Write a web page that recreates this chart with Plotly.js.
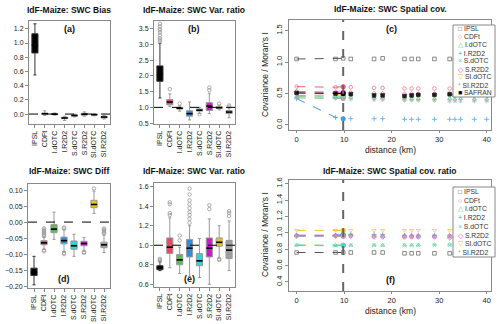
<!DOCTYPE html>
<html>
<head>
<meta charset="utf-8">
<script src="https://cdn.plot.ly/plotly-3.0.1.min.js"></script>
<style>body{margin:0;padding:0;background:#fff}#plot{width:500px;height:324px}</style>
</head>
<body>
<div id="plot"></div>
<script>
/* categories and colours */
var cats = ["IPSL", "CDFt", "I.dOTC", "I.R2D2", "S.dOTC", "S.R2D2", "SI.dOTC", "SI.R2D2"];
var boxColors = ["#000000", "#e34a66", "#55c24a", "#2a8de0", "#2ad7e0", "#cc1ac9", "#f2c114", "#9e9e9e"];

/* (a) SWC Bias */
var aLo  = [0.55, -0.02, -0.015, -0.09, -0.04, -0.03, -0.025, -0.07];
var aQ1  = [0.86, -0.005, -0.008, -0.065, -0.03, -0.015, -0.015, -0.055];
var aMed = [0.97, 0.005, -0.002, -0.055, -0.02, -0.003, -0.008, -0.042];
var aQ3  = [1.13, 0.012, 0.005, -0.045, -0.012, 0.01, -0.003, -0.032];
var aHi  = [1.27, 0.045, 0.015, -0.03, 0.0, 0.03, 0.008, -0.02];
var aOutCat = [];
var aOutVal = [];

/* (b) SWC Var. ratio */
var bLo  = [1.3, 1.03, 0.88, 0.6, 0.8, 0.8, 0.92, 0.67];
var bQ1  = [1.83, 1.08, 0.95, 0.72, 0.88, 0.9, 0.96, 0.8];
var bMed = [2.05, 1.17, 0.97, 0.8, 0.91, 1.04, 0.99, 0.85];
var bQ3  = [2.32, 1.25, 1.0, 0.89, 0.95, 1.15, 1.02, 0.9];
var bHi  = [3.04, 1.43, 1.05, 1.17, 1.0, 1.45, 1.07, 0.98];
var bOutCat = [0, 0, 0, 0, 0, 0, 0, 0, 0, 1, 2, 4, 5, 5, 6, 7, 7];
var bOutVal = [3.1, 3.15, 3.2, 3.3, 3.38, 3.45, 3.5, 3.58, 3.66, 1.58, 1.12, 0.78, 1.55, 1.63, 1.12, 1.02, 1.06];

/* (d) SWC Diff */
var dLo  = [-0.196, -0.085, -0.054, -0.092, -0.107, -0.09, 0.027, -0.095];
var dQ1  = [-0.167, -0.071, -0.033, -0.068, -0.085, -0.074, 0.045, -0.08];
var dMed = [-0.157, -0.065, -0.022, -0.058, -0.074, -0.067, 0.055, -0.071];
var dQ3  = [-0.144, -0.058, -0.008, -0.047, -0.059, -0.06, 0.068, -0.063];
var dHi  = [-0.107, -0.047, 0.031, -0.024, -0.038, -0.048, 0.097, -0.04];
var dOutCat = [1, 1, 1, 1, 1, 1, 1, 1, 1, 3, 3, 3, 3, 5, 5, 6, 7, 7, 7, 7, 7];
var dOutVal = [-0.044, -0.04, -0.036, -0.032, -0.028, -0.024, -0.02, -0.088, -0.091, -0.02, -0.017, -0.096, -0.1, -0.093, -0.096, 0.105, -0.036, -0.032, -0.028, -0.024, -0.02];

/* (e) SWC Var. ratio */
var eLo  = [0.74, 0.77, 0.71, 0.68, 0.67, 0.6, 0.87, 0.74];
var eQ1  = [0.75, 0.915, 0.80, 0.88, 0.79, 0.88, 0.99, 0.865];
var eMed = [0.77, 0.98, 0.85, 0.97, 0.84, 0.97, 1.03, 0.95];
var eQ3  = [0.79, 1.075, 0.905, 1.06, 0.915, 1.075, 1.075, 1.05];
var eHi  = [0.83, 1.28, 0.98, 1.2, 1.07, 1.27, 1.2, 1.25];
var eOutCat = [0, 0, 0, 1, 1, 1, 1, 2, 2, 3, 3, 3, 3, 3, 3, 3, 3, 3, 5, 5, 6, 6, 7, 7, 7];
var eOutVal = [0.84, 0.85, 0.86, 1.31, 1.33, 1.42, 1.44, 1.05, 1.1, 1.23, 1.27, 1.31, 1.34, 1.38, 1.42, 1.46, 1.52, 1.58, 1.37, 1.41, 0.85, 0.86, 1.3, 1.33, 1.35];

/* (c) spatial covariance vs distance */
var dist = [0, 8.2, 9.8, 11.4, 16.3, 18.1, 22.7, 24.2, 25.6, 29, 32.2, 33.3, 34.5, 37.4, 40];
var covIPSL   = [1.05, 1.05, 1.06, 1.05, 1.05, 1.06, 1.05, 1.05, 1.05, 1.05, 1.05, 1.04, 1.04, 1.05, 1.04];
var covCDFt   = [0.61, 0.60, 0.61, 0.60, 0.59, 0.59, 0.58, 0.58, 0.58, 0.58, 0.58, 0.57, 0.58, 0.57, 0.57];
var covIdOTC  = [0.45, 0.45, 0.44, 0.44, 0.43, 0.43, 0.42, 0.42, 0.42, 0.42, 0.42, 0.41, 0.42, 0.41, 0.41];
var covIR2D2  = [0.42, 0.12, 0.10, 0.10, 0.10, 0.10, 0.09, 0.09, 0.09, 0.09, 0.09, 0.09, 0.09, 0.09, 0.09];
var covSdOTC  = [0.47, 0.47, 0.46, 0.46, 0.45, 0.45, 0.44, 0.44, 0.44, 0.44, 0.44, 0.43, 0.44, 0.43, 0.43];
var covSR2D2  = [0.53, 0.52, 0.52, 0.51, 0.50, 0.50, 0.49, 0.49, 0.49, 0.49, 0.49, 0.48, 0.49, 0.48, 0.48];
var covSIdOTC = [0.50, 0.50, 0.49, 0.49, 0.48, 0.48, 0.47, 0.47, 0.47, 0.47, 0.47, 0.46, 0.47, 0.46, 0.46];
var covSIR2D2 = [0.43, 0.42, 0.42, 0.41, 0.40, 0.40, 0.39, 0.39, 0.39, 0.39, 0.38, 0.38, 0.38, 0.38, 0.38];
var covSAFRAN = [0.51, 0.50, 0.50, 0.49, 0.47, 0.47, 0.46, 0.47, 0.48, 0.48, 0.49, 0.48, 0.48, 0.48, 0.48];

/* (f) spatial covariance ratio */
var ratIPSL   = [0.76, 0.76, 0.76, 0.76, 0.76, 0.76, 0.75, 0.75, 0.75, 0.75, 0.75, 0.75, 0.75, 0.75, 0.75];
var ratCDFt   = [0.97, 0.97, 0.97, 0.97, 0.96, 0.96, 0.96, 0.96, 0.96, 0.96, 0.96, 0.96, 0.96, 0.96, 0.96];
var ratIdOTC  = [0.85, 0.85, 0.85, 0.85, 0.85, 0.85, 0.85, 0.85, 0.85, 0.86, 0.86, 0.86, 0.86, 0.86, 0.86];
var ratIR2D2  = [0.97, 0.97, 0.98, 0.98, 0.98, 0.98, 0.97, 0.97, 0.97, 0.97, 0.97, 0.97, 0.97, 0.97, 0.97];
var ratSdOTC  = [0.85, 0.84, 0.85, 0.85, 0.85, 0.85, 0.85, 0.85, 0.85, 0.85, 0.85, 0.85, 0.85, 0.85, 0.85];
var ratSR2D2  = [0.96, 0.96, 0.96, 0.96, 0.95, 0.95, 0.95, 0.95, 0.95, 0.95, 0.94, 0.94, 0.94, 0.94, 0.94];
var ratSIdOTC = [1.03, 1.03, 1.03, 1.03, 1.03, 1.03, 1.03, 1.03, 1.03, 1.03, 1.03, 1.03, 1.03, 1.03, 1.03];
var ratSIR2D2 = [0.96, 0.96, 0.96, 0.96, 0.96, 0.96, 0.95, 0.95, 0.95, 0.95, 0.95, 0.95, 0.95, 0.95, 0.95];

var decorrIdx = 2;   // dist[2] = 9.8 km, marked by the vertical line

var seriesNames  = ["IPSL", "CDFt", "I.dOTC", "I.R2D2", "S.dOTC", "S.R2D2", "SI.dOTC", "SI.R2D2", "SAFRAN"];
var seriesColors = ["#555555", "#f0607a", "#66cc55", "#3a9cf0", "#40dada", "#dd44dd", "#f5c21a", "#aaaaaa", "#000000"];
var seriesSymbols = ["square-open", "circle-open", "triangle-up-open", "cross-thin-open", "x-thin-open", "diamond-open", "triangle-down-open", "asterisk-open", "square"];
var legendGlyphs = ["\u25A1", "\u25CB", "\u25B3", "+", "\u00D7", "\u25C7", "\u25BD", "*", "\u25A0"];

var covSeries = [covIPSL, covCDFt, covIdOTC, covIR2D2, covSdOTC, covSR2D2, covSIdOTC, covSIR2D2, covSAFRAN];
var ratSeries = [ratIPSL, ratCDFt, ratIdOTC, ratIR2D2, ratSdOTC, ratSR2D2, ratSIdOTC, ratSIR2D2];

var data = [];

function boxPanel(ax, lo, q1, med, q3, hi, outCat, outVal) {
  for (var i = 0; i < cats.length; i++) {
    data.push({
      type: "box", x: [cats[i]], q1: [q1[i]], median: [med[i]], q3: [q3[i]],
      lowerfence: [lo[i]], upperfence: [hi[i]],
      fillcolor: boxColors[i], line: {color: i === 0 ? "#333" : "#999", width: 1},
      width: 0.62, whiskerwidth: 0.5, boxpoints: false,
      xaxis: "x" + ax, yaxis: "y" + ax, showlegend: false, hoverinfo: "skip"
    });
  }
  data.push({
    type: "scatter", mode: "markers", x: cats, y: med,
    marker: {symbol: "line-ew", size: 4.4, line: {width: 1.6, color: "#000"}},
    xaxis: "x" + ax, yaxis: "y" + ax, showlegend: false, hoverinfo: "skip"
  });
  data.push({
    type: "scatter", mode: "markers", x: outCat.map(function (k) { return cats[k]; }), y: outVal,
    marker: {symbol: "circle-open", size: 3.5, color: "#999", line: {width: 0.8, color: "#999"}},
    xaxis: "x" + ax, yaxis: "y" + ax, showlegend: false, hoverinfo: "skip"
  });
}

function linePanel(ax, list) {
  for (var s = 0; s < list.length; s++) {
    var v = list[s], c = seriesColors[s];
    data.push({
      type: "scatter", mode: "lines", x: dist.slice(0, decorrIdx + 1), y: v.slice(0, decorrIdx + 1),
      line: {color: c, width: 1, dash: "dash"},
      xaxis: "x" + ax, yaxis: "y" + ax, showlegend: false, hoverinfo: "skip"
    });
    data.push({
      type: "scatter", mode: "markers", x: dist, y: v, opacity: 0.85,
      marker: {symbol: seriesSymbols[s], size: 3.6, color: c, line: {width: 0.8, color: c}},
      xaxis: "x" + ax, yaxis: "y" + ax, showlegend: false, hoverinfo: "skip"
    });
    if (s > 0) {
      data.push({
        type: "scatter", mode: "markers", x: [dist[decorrIdx]], y: [v[decorrIdx]],
        marker: {symbol: "circle", size: 5, color: c},
        xaxis: "x" + ax, yaxis: "y" + ax, showlegend: false, hoverinfo: "skip"
      });
    }
  }
}

boxPanel("", aLo, aQ1, aMed, aQ3, aHi, aOutCat, aOutVal);
boxPanel("2", bLo, bQ1, bMed, bQ3, bHi, bOutCat, bOutVal);
linePanel("3", covSeries);
boxPanel("4", dLo, dQ1, dMed, dQ3, dHi, dOutCat, dOutVal);
boxPanel("5", eLo, eQ1, eMed, eQ3, eHi, eOutCat, eOutVal);
linePanel("6", ratSeries);

var W = 500, H = 324;
function px(x) { return x / W; }
function py(y) { return 1 - y / H; }

var axLine = {showline: true, mirror: true, linecolor: "#888", linewidth: 1, ticks: "outside", ticklen: 3,
  tickcolor: "#888", showgrid: false, zeroline: false, tickfont: {family: "Liberation Sans, Arial", size: 7, color: "#222"}};
function ax(extra) { return Object.assign({}, axLine, extra); }

var catX = {type: "category", range: [-0.6, 7.6], tickangle: -90, fixedrange: true};
var distTick = {family: "Liberation Sans, Arial", size: 7.5, color: "#222"};
var layout = {
  width: W, height: H, margin: {l: 0, r: 0, t: 0, b: 0},
  paper_bgcolor: "#fff", plot_bgcolor: "#fff", showlegend: false, boxmode: "overlay",
  font: {family: "Liberation Sans, Arial", size: 7, color: "#222"},
  xaxis:  ax(Object.assign({domain: [px(29), px(110)], anchor: "y"}, catX)),
  yaxis:  ax({domain: [py(124), py(21)], anchor: "x", range: [-0.14, 1.31], dtick: 0.2, tickformat: ".1f"}),
  xaxis2: ax(Object.assign({domain: [px(154), px(235)], anchor: "y2"}, catX)),
  yaxis2: ax({domain: [py(124), py(21)], anchor: "x2", range: [0.47, 3.75], dtick: 0.5, tickformat: ".1f"}),
  xaxis3: ax({domain: [px(289), px(491)], anchor: "y3", range: [-1.6, 40.9], dtick: 10, ticklen: 2, tickfont: distTick}),
  yaxis3: ax({domain: [py(130), py(20)], anchor: "x3", range: [-0.08, 1.67], dtick: 0.5, tickformat: ".1f", tickangle: -90, tickfont: distTick}),
  xaxis4: ax(Object.assign({domain: [px(28), px(110)], anchor: "y4"}, catX)),
  yaxis4: ax({domain: [py(288), py(184)], anchor: "x4", range: [-0.206, 0.119], dtick: 0.05, tickformat: ".2f"}),
  xaxis5: ax(Object.assign({domain: [px(154), px(235)], anchor: "y5"}, catX)),
  yaxis5: ax({domain: [py(287), py(183)], anchor: "x5", range: [0.572, 1.638], dtick: 0.2, tickformat: ".1f"}),
  xaxis6: ax({domain: [px(289), px(491)], anchor: "y6", range: [-1.6, 40.9], dtick: 10, ticklen: 2, tickfont: distTick}),
  yaxis6: ax({domain: [py(291), py(180)], anchor: "x6", range: [0.29, 1.645], dtick: 0.2, tickformat: ".1f", tickangle: -90, tickfont: distTick}),
  shapes: [],
  annotations: []
};

// reference lines
[["x", "y", 0], ["x2", "y2", 1], ["x4", "y4", 0], ["x5", "y5", 1]].forEach(function (r) {
  layout.shapes.push({type: "line", xref: r[0] + " domain", yref: r[1], x0: 0, x1: 1, y0: r[2], y1: r[2],
    line: {color: "#000", width: 1, dash: "dash"}});
});
["3", "6"].forEach(function (k) {
  layout.shapes.push({type: "line", xref: "x" + k, yref: "y" + k + " domain", x0: dist[decorrIdx], x1: dist[decorrIdx], y0: 0, y1: 1,
    line: {color: "#666", width: 2, dash: "dash"}});
});

function note(text, x, y, opts) {
  layout.annotations.push(Object.assign({text: text, x: x, y: y, xref: "paper", yref: "paper",
    showarrow: false, xanchor: "center", yanchor: "middle",
    font: {family: "Liberation Sans, Arial", size: 8, color: "#111"}}, opts || {}));
}

// titles
var tFont = {family: "Liberation Sans, Arial", size: 8.5, color: "#111"};
note("<b>IdF-Maize: SWC Bias</b>", px(69), py(10), {font: tFont});
note("<b>IdF-Maize: SWC Var. ratio</b>", px(194), py(10), {font: tFont});
note("<b>IdF-Maize: SWC Spatial cov.</b>", px(390), py(9), {font: tFont});
note("<b>IdF-Maize: SWC Diff</b>", px(69), py(171), {font: tFont});
note("<b>IdF-Maize: SWC Var. ratio</b>", px(194), py(171), {font: tFont});
note("<b>IdF-Maize: SWC Spatial cov. ratio</b>", px(390), py(171), {font: tFont});

// panel letters
var lFont = {family: "Liberation Sans, Arial", size: 9, color: "#111"};
note("<b>(a)</b>", px(69), py(29), {font: lFont});
note("<b>(b)</b>", px(194), py(29), {font: lFont});
note("<b>(c)</b>", px(391), py(29), {font: lFont});
note("<b>(d)</b>", px(64), py(279), {font: lFont});
note("<b>(e)</b>", px(189), py(279), {font: lFont});
note("<b>(f)</b>", px(390), py(280), {font: lFont});

// axis titles of the distance panels
var aFont = {family: "Liberation Sans, Arial", size: 8.5, color: "#222"};
note("distance (km)", px(390), py(150), {font: aFont});
note("distance (km)", px(390), py(311), {font: aFont});
note("Covariance / Moran's I", px(265), py(75), {font: aFont, textangle: -90});
note("Covariance / Moran's I", px(265), py(235), {font: aFont, textangle: -90});

// legends
function legendBox(top, bottom, n) {
  layout.shapes.push({type: "rect", xref: "paper", yref: "paper", x0: px(453), x1: px(495), y0: py(bottom), y1: py(top),
    fillcolor: "#fff", line: {color: "#888", width: 1}, layer: "above"});
  var pitch = (bottom - top) / n;
  for (var i = 0; i < n; i++) {
    note('<span style="color:' + seriesColors[i] + '">' + legendGlyphs[i] + '</span> ' + seriesNames[i],
      px(456), py(top + pitch * (i + 0.5)),
      {xanchor: "left", font: {family: "Liberation Sans, Arial", size: 6.8, color: "#333"}});
  }
}
legendBox(25, 97, 9);
legendBox(187, 257, 8);

Plotly.newPlot("plot", data, layout, {staticPlot: true});
</script>
</body>
</html>
